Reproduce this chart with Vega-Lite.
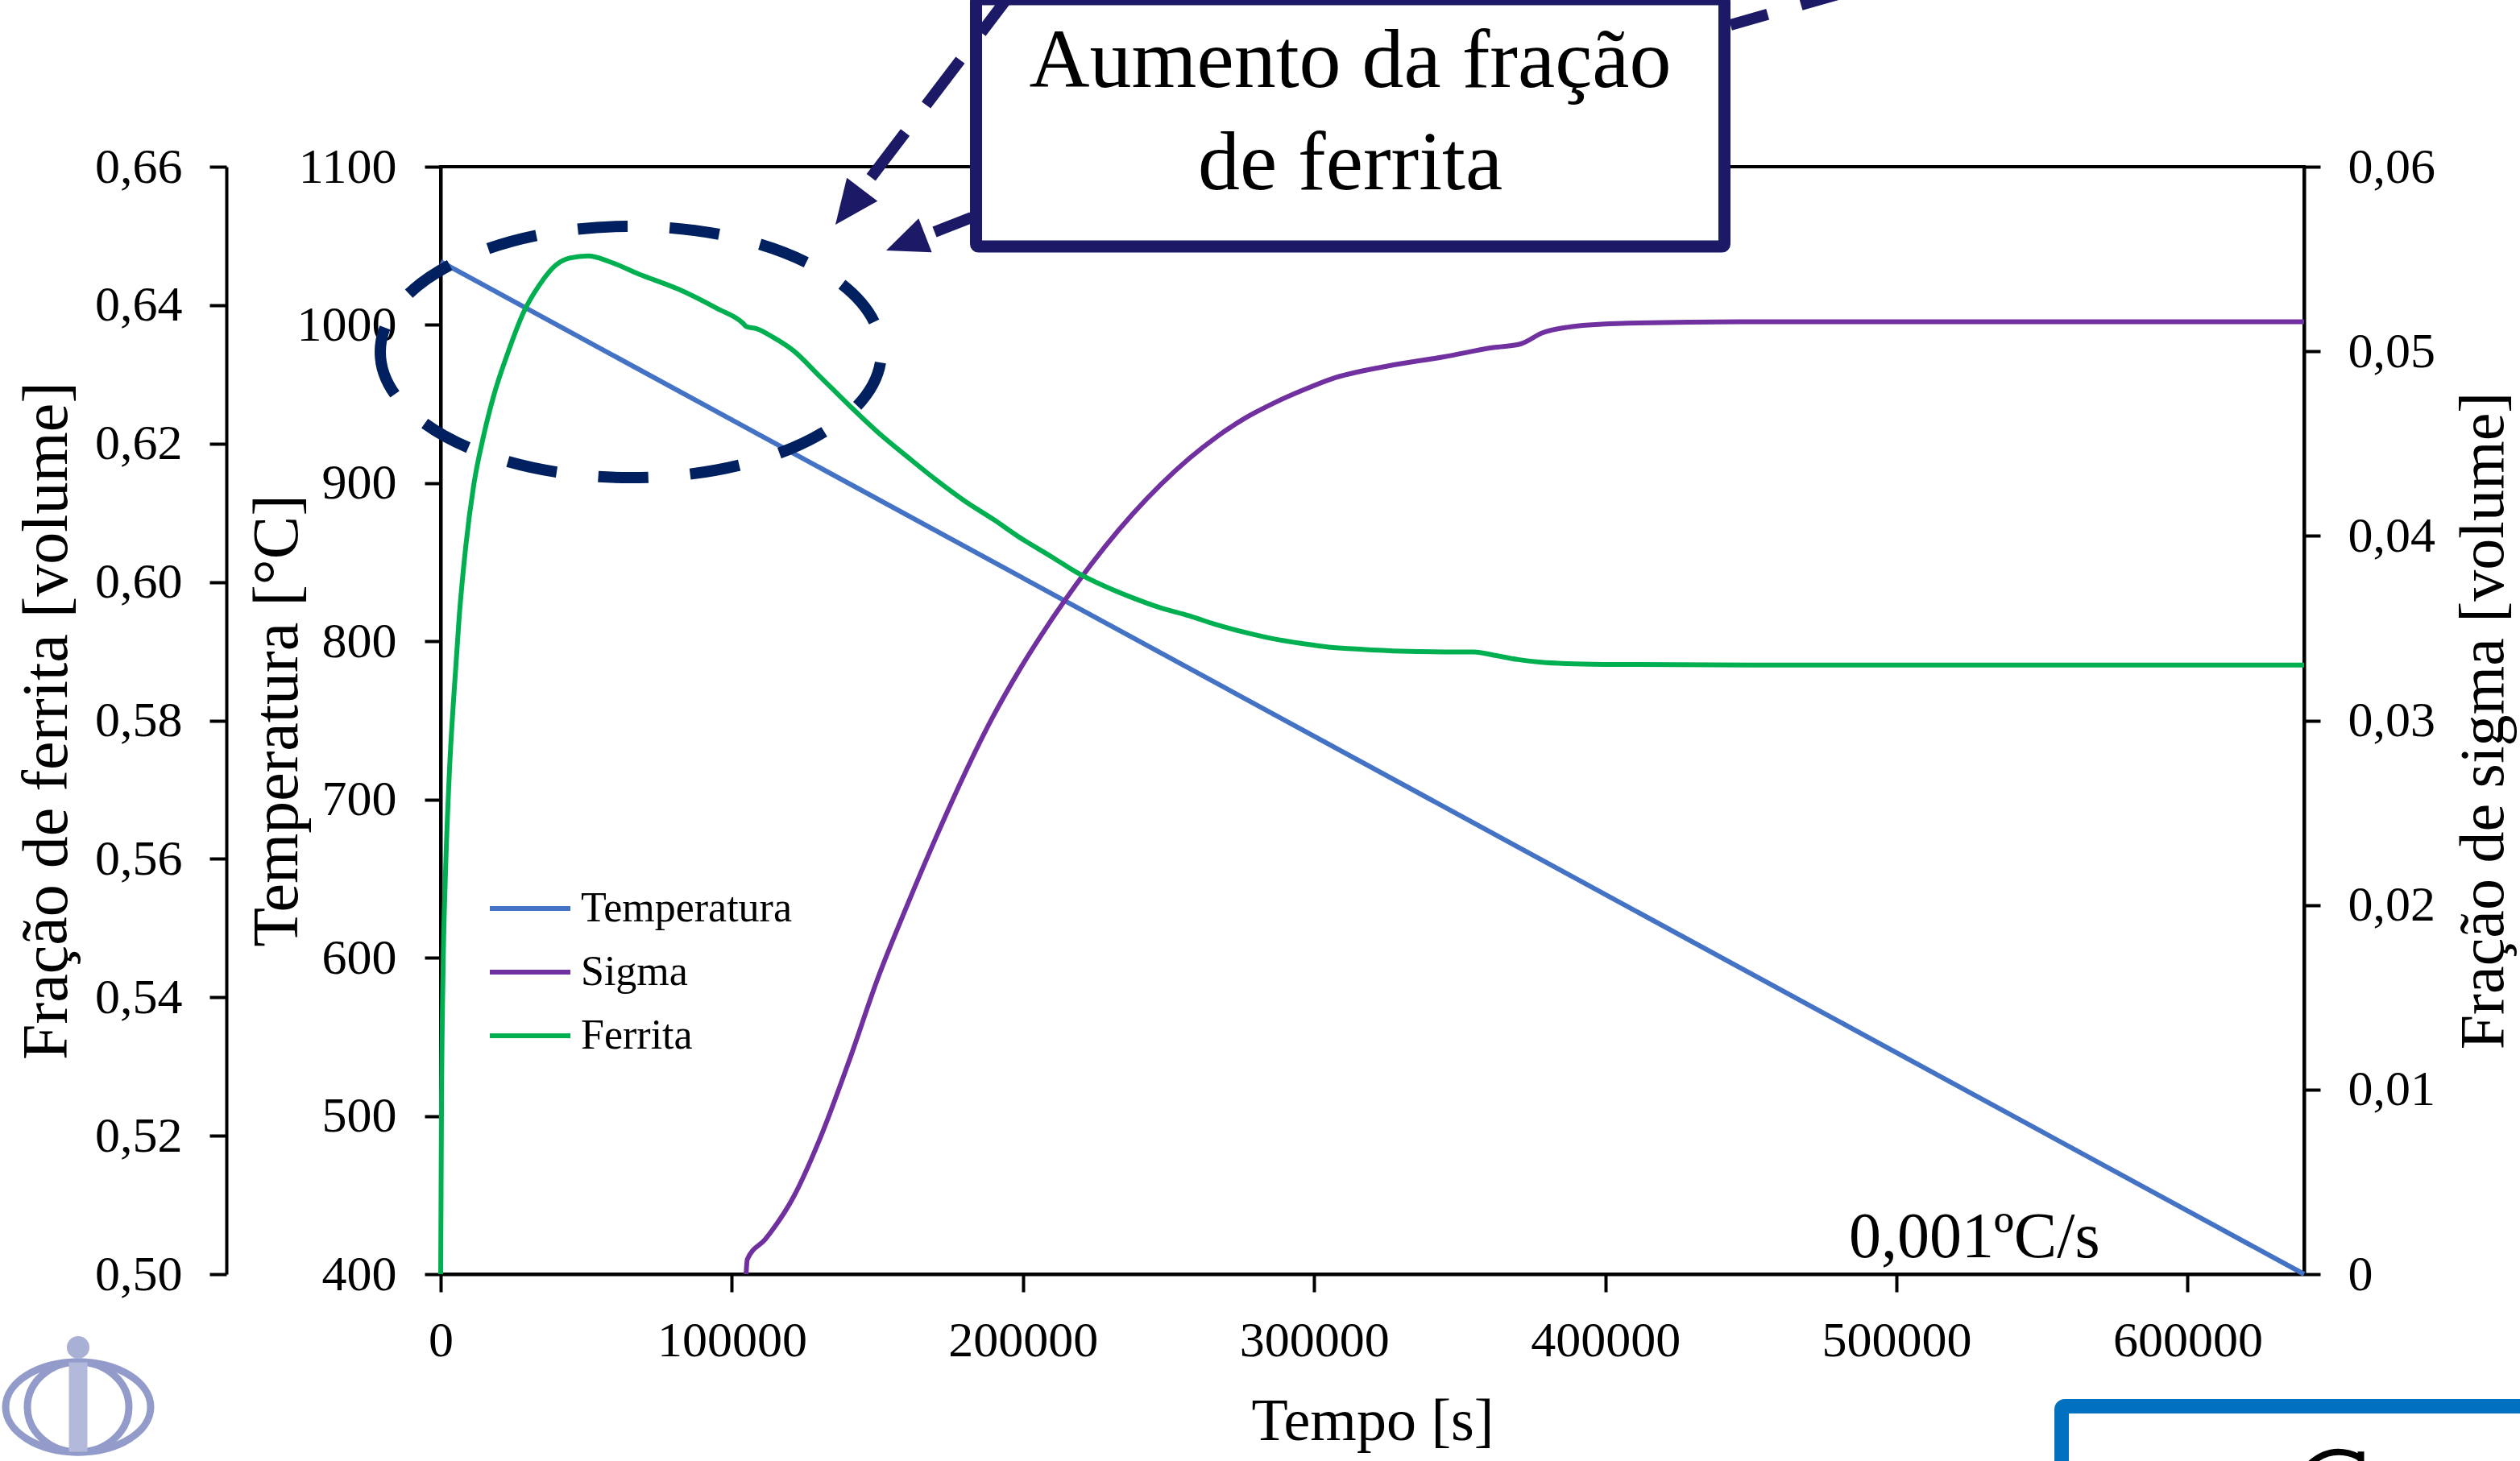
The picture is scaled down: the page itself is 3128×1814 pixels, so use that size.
{
  "$schema": "https://vega.github.io/schema/vega-lite/v6.json",
  "width": 2313,
  "height": 1375,
  "autosize": {"type": "none"},
  "padding": {"left": 547, "top": 207, "right": 268, "bottom": 232},
  "background": "#ffffff",
  "datasets": {
    "temperatura": [
      {"t": 0, "T": 1040},
      {"t": 640000, "T": 400}
    ],
    "sigma": [
      {"t": 104900, "s": 0}, {"t": 105300, "s": 0.0008}, {"t": 111550, "s": 0.0019},
      {"t": 121240, "s": 0.0042}, {"t": 130930, "s": 0.0076}, {"t": 140610, "s": 0.0117},
      {"t": 150300, "s": 0.0161}, {"t": 160270, "s": 0.0200}, {"t": 169950, "s": 0.0236},
      {"t": 179640, "s": 0.0270}, {"t": 189330, "s": 0.0301}, {"t": 199020, "s": 0.0328},
      {"t": 208710, "s": 0.0352}, {"t": 218400, "s": 0.0374}, {"t": 228080, "s": 0.0394},
      {"t": 237770, "s": 0.0412}, {"t": 247460, "s": 0.0428}, {"t": 257150, "s": 0.0442},
      {"t": 266840, "s": 0.0454}, {"t": 276520, "s": 0.0464}, {"t": 286210, "s": 0.0472},
      {"t": 296180, "s": 0.0479}, {"t": 305860, "s": 0.0485}, {"t": 325240, "s": 0.0492},
      {"t": 344620, "s": 0.0497}, {"t": 361500, "s": 0.0502}, {"t": 370900, "s": 0.0504},
      {"t": 378400, "s": 0.0510}, {"t": 387000, "s": 0.0513}, {"t": 403900, "s": 0.0515},
      {"t": 446200, "s": 0.0516}, {"t": 640000, "s": 0.0516}
    ],
    "ferrita": [
      {"t": 0, "f": 0.500}, {"t": 277, "f": 0.524}, {"t": 830, "f": 0.544},
      {"t": 1660, "f": 0.558}, {"t": 3045, "f": 0.573}, {"t": 4429, "f": 0.583},
      {"t": 6366, "f": 0.595}, {"t": 8581, "f": 0.605}, {"t": 11349, "f": 0.614},
      {"t": 14670, "f": 0.621}, {"t": 18269, "f": 0.627}, {"t": 22974, "f": 0.633},
      {"t": 28510, "f": 0.639}, {"t": 34046, "f": 0.643}, {"t": 39582, "f": 0.6458},
      {"t": 44288, "f": 0.6468}, {"t": 50654, "f": 0.6471}, {"t": 57851, "f": 0.6463},
      {"t": 68000, "f": 0.6445}, {"t": 81656, "f": 0.6423}, {"t": 95000, "f": 0.6395},
      {"t": 103800, "f": 0.6374}, {"t": 105000, "f": 0.6369}, {"t": 108500, "f": 0.6366},
      {"t": 114000, "f": 0.6354}, {"t": 121238, "f": 0.6334}, {"t": 130000, "f": 0.6298},
      {"t": 140614, "f": 0.6254}, {"t": 150000, "f": 0.6217}, {"t": 160267, "f": 0.6181},
      {"t": 170000, "f": 0.6148}, {"t": 179643, "f": 0.6118}, {"t": 190000, "f": 0.6090},
      {"t": 199019, "f": 0.6064}, {"t": 210000, "f": 0.6036}, {"t": 218395, "f": 0.6014},
      {"t": 228000, "f": 0.5994}, {"t": 237771, "f": 0.5977}, {"t": 247000, "f": 0.5963},
      {"t": 257147, "f": 0.5951}, {"t": 266000, "f": 0.5939}, {"t": 276523, "f": 0.5927},
      {"t": 286000, "f": 0.5918}, {"t": 296176, "f": 0.5911}, {"t": 305000, "f": 0.5906},
      {"t": 315552, "f": 0.5903}, {"t": 330000, "f": 0.5900}, {"t": 344616, "f": 0.5899},
      {"t": 355000, "f": 0.5899}, {"t": 362000, "f": 0.5894}, {"t": 370000, "f": 0.5888},
      {"t": 378000, "f": 0.5884}, {"t": 387000, "f": 0.5882}, {"t": 400000, "f": 0.5881},
      {"t": 450000, "f": 0.5880}, {"t": 640000, "f": 0.5880}
    ],
    "destaque": [{"t": 65300, "T": 982.9}],
    "caixa": [{"t": 183870, "t2": 440917, "T": 1049.6, "T2": 1205.9}],
    "caixaTexto": [
      {"t": 312391, "T": 1150.4, "texto": "Aumento da fração"},
      {"t": 312391, "T": 1085.7, "texto": "de ferrita"}
    ],
    "seta1": [{"t": 200882, "T": 1221.7}, {"t": 144713, "T": 1085.7}],
    "ponta1": [{"t": 140175, "T": 1074.5}],
    "seta2": [{"t": 182345, "T": 1067.9}, {"t": 169615, "T": 1058.8}],
    "ponta2": [{"t": 159713, "T": 1051.8}],
    "seta3": [{"t": 442997, "T": 1189.6}, {"t": 526560, "T": 1233.4}],
    "taxa": [{"t": 483672, "T": 410.7, "texto": "0,001ºC/s"}],
    "logo": [{"t": -124515, "T": 316.0}],
    "logoPonto": [{"t": -124515, "T": 353.7}],
    "caixaAzul": [{"t": 556724, "t2": 761757, "T": 253.4, "T2": 316.5}],
    "caixaAzulLetra": [{"t": 649000, "T": 280.9}]
  },
  "layer": [
    {
      "data": {"name": "temperatura"},
      "mark": {"type": "line", "strokeWidth": 6},
      "encoding": {
        "x": {
          "field": "t", "type": "quantitative",
          "scale": {"domain": [0, 640000], "nice": false, "zero": false},
          "axis": {
            "title": "Tempo [s]", "values": [0, 100000, 200000, 300000, 400000, 500000, 600000],
            "format": "d", "tickSize": 22, "labelPadding": 30, "titlePadding": 34,
            "titleFontSize": 74, "labelFlush": false, "labelOverlap": false
          }
        },
        "y": {
          "field": "T", "type": "quantitative",
          "scale": {"domain": [400, 1100], "nice": false, "zero": false},
          "axis": {
            "orient": "left", "title": "Temperatura [°C]",
            "values": [400, 500, 600, 700, 800, 900, 1000, 1100], "format": "d",
            "tickSize": 20, "labelPadding": 35, "titlePadding": -17,
            "titleAngle": 270, "titleBaseline": "bottom"
          }
        },
        "color": {
          "datum": "Temperatura", "type": "nominal",
          "scale": {"domain": ["Temperatura", "Sigma", "Ferrita"], "range": ["#4472C4", "#7030A0", "#00B050"]},
          "legend": {
            "orient": "none", "legendX": 58, "legendY": 868, "title": null,
            "symbolType": "stroke", "symbolStrokeWidth": 6, "symbolSize": 10000,
            "labelFont": "Liberation Serif", "labelFontSize": 52, "labelColor": "#000000",
            "labelLimit": 0, "labelOffset": 10, "rowPadding": 0, "padding": 0
          }
        }
      }
    },
    {
      "data": {"name": "sigma"},
      "mark": {"type": "line", "strokeWidth": 6, "interpolate": "monotone"},
      "encoding": {
        "x": {"field": "t", "type": "quantitative", "scale": {"domain": [0, 640000], "nice": false, "zero": false}},
        "y": {
          "field": "s", "type": "quantitative",
          "scale": {"domain": [0, 0.06], "nice": false, "zero": false},
          "axis": {
            "orient": "right", "title": "Fração de sigma [volume]",
            "values": [0, 0.01, 0.02, 0.03, 0.04, 0.05, 0.06],
            "labelExpr": "datum.value === 0 ? '0' : replace(format(datum.value, '.2f'), '.', ',')",
            "tickSize": 20, "labelPadding": 34, "titlePadding": 22,
            "titleFontSize": 78, "titleAngle": 270, "titleBaseline": "top"
          }
        },
        "color": {"datum": "Sigma", "type": "nominal"}
      }
    },
    {
      "data": {"name": "ferrita"},
      "mark": {"type": "line", "strokeWidth": 6, "interpolate": "monotone"},
      "encoding": {
        "x": {"field": "t", "type": "quantitative", "scale": {"domain": [0, 640000], "nice": false, "zero": false}},
        "y": {
          "field": "f", "type": "quantitative",
          "scale": {"domain": [0.5, 0.66], "nice": false, "zero": false},
          "axis": {
            "orient": "left", "offset": 266, "title": "Fração de ferrita [volume]",
            "values": [0.5, 0.52, 0.54, 0.56, 0.58, 0.6, 0.62, 0.64, 0.66],
            "labelExpr": "replace(format(datum.value, '.2f'), '.', ',')",
            "tickSize": 21, "labelPadding": 34, "titlePadding": 18,
            "titleAngle": 270, "titleBaseline": "bottom"
          }
        },
        "color": {"datum": "Ferrita", "type": "nominal"}
      }
    },
    {
      "data": {"name": "destaque"},
      "mark": {
        "type": "point", "shape": "M-1,0 A1,0.5016 0 1,1 1,0 A1,0.5016 0 1,1 -1,0 Z",
        "size": 386884, "filled": false, "opacity": 1, "stroke": "#002060",
        "strokeWidth": 14, "strokeDash": [62, 52], "strokeDashOffset": 31
      },
      "encoding": {
        "x": {"field": "t", "type": "quantitative", "scale": {"domain": [0, 640000], "nice": false, "zero": false}},
        "y": {"field": "T", "type": "quantitative", "scale": {"domain": [400, 1100], "nice": false, "zero": false}, "axis": null}
      }
    },
    {
      "data": {"name": "caixa"},
      "mark": {"type": "rect", "fill": "#ffffff", "stroke": "#1C1A66", "strokeWidth": 15, "cornerRadius": 3},
      "encoding": {
        "x": {"field": "t", "type": "quantitative", "scale": {"domain": [0, 640000], "nice": false, "zero": false}},
        "x2": {"field": "t2"},
        "y": {"field": "T", "type": "quantitative", "scale": {"domain": [400, 1100], "nice": false, "zero": false}, "axis": null},
        "y2": {"field": "T2"}
      }
    },
    {
      "data": {"name": "caixaTexto"},
      "mark": {"type": "text", "font": "Liberation Serif", "fontSize": 104, "align": "center", "baseline": "alphabetic", "color": "#000000"},
      "encoding": {
        "x": {"field": "t", "type": "quantitative", "scale": {"domain": [0, 640000], "nice": false, "zero": false}},
        "y": {"field": "T", "type": "quantitative", "scale": {"domain": [400, 1100], "nice": false, "zero": false}, "axis": null},
        "text": {"field": "texto"}
      }
    },
    {
      "data": {"name": "seta1"},
      "mark": {"type": "line", "stroke": "#1C1A66", "strokeWidth": 14, "strokeDash": [70, 43], "strokeDashOffset": 92, "strokeCap": "butt"},
      "encoding": {
        "x": {"field": "t", "type": "quantitative", "scale": {"domain": [0, 640000], "nice": false, "zero": false}},
        "y": {"field": "T", "type": "quantitative", "scale": {"domain": [400, 1100], "nice": false, "zero": false}, "axis": null},
        "order": {"value": null}
      }
    },
    {
      "data": {"name": "ponta1"},
      "mark": {"type": "point", "shape": "M0,-1 L0.87,1 L-0.87,1 Z", "size": 3025, "angle": 217.2, "filled": true, "opacity": 1, "color": "#1C1A66"},
      "encoding": {
        "x": {"field": "t", "type": "quantitative", "scale": {"domain": [0, 640000], "nice": false, "zero": false}},
        "y": {"field": "T", "type": "quantitative", "scale": {"domain": [400, 1100], "nice": false, "zero": false}, "axis": null}
      }
    },
    {
      "data": {"name": "seta2"},
      "mark": {"type": "line", "stroke": "#1C1A66", "strokeWidth": 14, "strokeCap": "butt"},
      "encoding": {
        "x": {"field": "t", "type": "quantitative", "scale": {"domain": [0, 640000], "nice": false, "zero": false}},
        "y": {"field": "T", "type": "quantitative", "scale": {"domain": [400, 1100], "nice": false, "zero": false}, "axis": null},
        "order": {"value": null}
      }
    },
    {
      "data": {"name": "ponta2"},
      "mark": {"type": "point", "shape": "M0,-1 L0.87,1 L-0.87,1 Z", "size": 2704, "angle": 248.8, "filled": true, "opacity": 1, "color": "#1C1A66"},
      "encoding": {
        "x": {"field": "t", "type": "quantitative", "scale": {"domain": [0, 640000], "nice": false, "zero": false}},
        "y": {"field": "T", "type": "quantitative", "scale": {"domain": [400, 1100], "nice": false, "zero": false}, "axis": null}
      }
    },
    {
      "data": {"name": "seta3"},
      "mark": {"type": "line", "stroke": "#1C1A66", "strokeWidth": 14, "strokeDash": [70, 43], "strokeDashOffset": 22, "strokeCap": "butt"},
      "encoding": {
        "x": {"field": "t", "type": "quantitative", "scale": {"domain": [0, 640000], "nice": false, "zero": false}},
        "y": {"field": "T", "type": "quantitative", "scale": {"domain": [400, 1100], "nice": false, "zero": false}, "axis": null},
        "order": {"value": null}
      }
    },
    {
      "data": {"name": "taxa"},
      "mark": {"type": "text", "font": "Liberation Serif", "fontSize": 80, "align": "left", "baseline": "alphabetic", "color": "#000000"},
      "encoding": {
        "x": {"field": "t", "type": "quantitative", "scale": {"domain": [0, 640000], "nice": false, "zero": false}},
        "y": {"field": "T", "type": "quantitative", "scale": {"domain": [400, 1100], "nice": false, "zero": false}, "axis": null},
        "text": {"field": "texto"}
      }
    },
    {
      "data": {"name": "logo"},
      "mark": {"type": "point", "shape": "M-1,0 A1,0.622 0 1,1 1,0 A1,0.622 0 1,1 -1,0 Z", "size": 32400, "filled": false, "opacity": 1, "stroke": "#939BCB", "strokeWidth": 9},
      "encoding": {
        "x": {"field": "t", "type": "quantitative", "scale": {"domain": [0, 640000], "nice": false, "zero": false}},
        "y": {"field": "T", "type": "quantitative", "scale": {"domain": [400, 1100], "nice": false, "zero": false}, "axis": null}
      }
    },
    {
      "data": {"name": "logo"},
      "mark": {"type": "point", "shape": "M-1,0 A1,0.889 0 1,1 1,0 A1,0.889 0 1,1 -1,0 Z", "size": 15876, "filled": false, "opacity": 1, "stroke": "#939BCB", "strokeWidth": 9},
      "encoding": {
        "x": {"field": "t", "type": "quantitative", "scale": {"domain": [0, 640000], "nice": false, "zero": false}},
        "y": {"field": "T", "type": "quantitative", "scale": {"domain": [400, 1100], "nice": false, "zero": false}, "axis": null}
      }
    },
    {
      "data": {"name": "logo"},
      "mark": {"type": "point", "shape": "M-0.207,-1 L0.207,-1 L0.207,1 L-0.207,1 Z", "size": 12321, "filled": true, "opacity": 1, "color": "#B3B9DA"},
      "encoding": {
        "x": {"field": "t", "type": "quantitative", "scale": {"domain": [0, 640000], "nice": false, "zero": false}},
        "y": {"field": "T", "type": "quantitative", "scale": {"domain": [400, 1100], "nice": false, "zero": false}, "axis": null}
      }
    },
    {
      "data": {"name": "logoPonto"},
      "mark": {"type": "point", "shape": "circle", "size": 784, "filled": true, "opacity": 1, "color": "#A9B0D6"},
      "encoding": {
        "x": {"field": "t", "type": "quantitative", "scale": {"domain": [0, 640000], "nice": false, "zero": false}},
        "y": {"field": "T", "type": "quantitative", "scale": {"domain": [400, 1100], "nice": false, "zero": false}, "axis": null}
      }
    },
    {
      "data": {"name": "caixaAzul"},
      "mark": {"type": "rect", "fill": "#ffffff", "stroke": "#0070C0", "strokeWidth": 18, "cornerRadius": 4},
      "encoding": {
        "x": {"field": "t", "type": "quantitative", "scale": {"domain": [0, 640000], "nice": false, "zero": false}},
        "x2": {"field": "t2"},
        "y": {"field": "T", "type": "quantitative", "scale": {"domain": [400, 1100], "nice": false, "zero": false}, "axis": null},
        "y2": {"field": "T2"}
      }
    },
    {
      "data": {"name": "caixaAzulLetra"},
      "mark": {
        "type": "point", "shape": "M-1,0.45 Q-0.35,-0.42 0.4,-0.32 Q0.75,-0.27 0.95,-0.12 M0.95,-0.34 L0.95,0.45",
        "size": 6400, "filled": false, "opacity": 1, "stroke": "#000000", "strokeWidth": 8
      },
      "encoding": {
        "x": {"field": "t", "type": "quantitative", "scale": {"domain": [0, 640000], "nice": false, "zero": false}},
        "y": {"field": "T", "type": "quantitative", "scale": {"domain": [400, 1100], "nice": false, "zero": false}, "axis": null}
      }
    }
  ],
  "resolve": {"scale": {"y": "independent"}, "axis": {"y": "independent"}},
  "config": {
    "font": "Liberation Serif",
    "view": {"stroke": "#000000", "strokeWidth": 4},
    "axis": {
      "grid": false,
      "domainColor": "#000000", "domainWidth": 4,
      "tickColor": "#000000", "tickWidth": 4,
      "labelFont": "Liberation Serif", "labelFontSize": 62, "labelColor": "#000000", "labelLimit": 0,
      "titleFont": "Liberation Serif", "titleFontSize": 80, "titleFontWeight": "normal", "titleColor": "#000000"
    }
  }
}
